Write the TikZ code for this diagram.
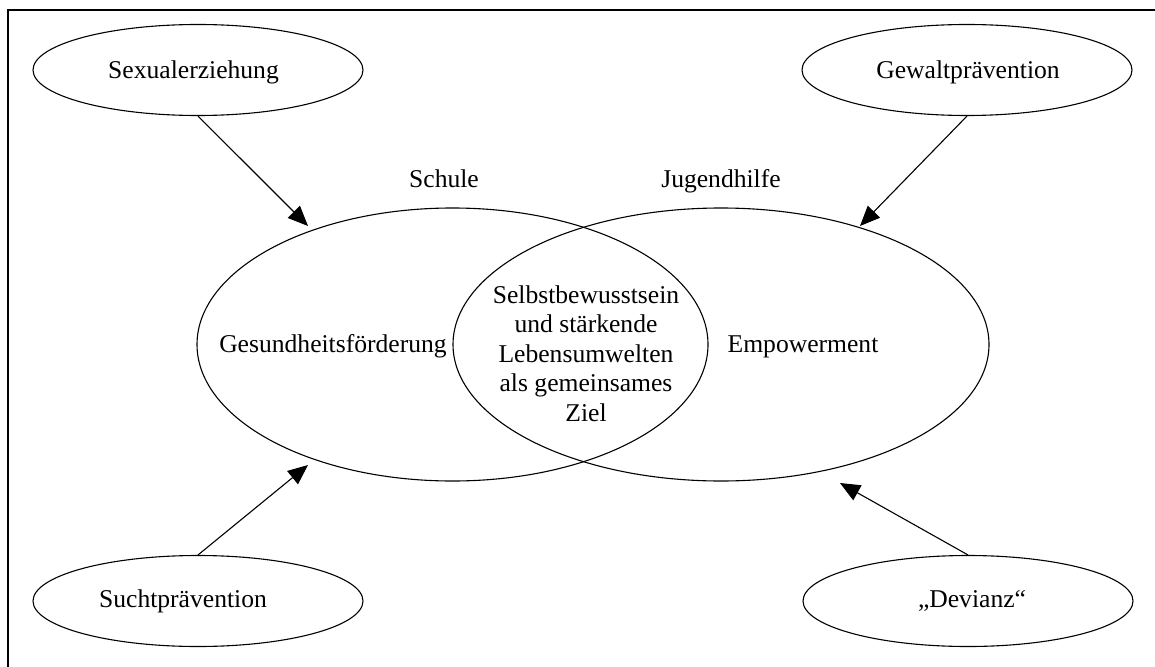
\documentclass[tikz,border=0pt]{standalone}
\usepackage{fontspec}
\setmainfont{Liberation Serif}
\usetikzlibrary{shapes.geometric,arrows.meta}
\begin{document}
\begin{tikzpicture}[x=1pt,y=-1pt,
  ell/.style={draw,ellipse,line width=1.1pt,inner sep=0pt},
  small/.style={ell,minimum width=330pt,minimum height=91pt},
  big/.style={ell,minimum height=273pt},
  lbl/.style={anchor=base,inner sep=0pt,font=\fontsize{25.6}{29.6}\selectfont},
  arr/.style={line width=1.1pt,-{Triangle[length=20pt,width=17pt]}}]
\useasboundingbox (0,0) rectangle (1155,666);
% frame
\draw[line width=1.7pt] (8,680) -- (8,10) -- (1170,10);
% outer ellipses
\node[small] (sex) at (198,70) {};
\node[small] (gew) at (967,70) {};
\node[small] (such) at (198,601) {};
\node[small] (dev) at (968,601) {};
\node[lbl] at (193.5,79) {Sexualerziehung};
\node[lbl] at (968,79) {Gewaltprävention};
\node[lbl] at (183,607) {Suchtprävention};
\node[lbl] at (972,607) {„Devianz“};
% two overlapping ellipses
\node[big,minimum width=511pt] (L) at (452.5,344.5) {};
\node[big,minimum width=536pt] (R) at (721,344.5) {};
\node[lbl] (schule) at (444,187) {Schule};
\node[lbl] (jugend) at (721,187) {Jugendhilfe};
\node[lbl] (gf) at (333,352) {Gesundheitsförderung};
\node[lbl] (emp) at (803,352) {Empowerment};
\node[lbl] (ziel) at (586,303) {\parbox[t]{300pt}{\centering\fontsize{25.6}{29.6}\selectfont
  Selbstbewusstsein\\und stärkende\\Lebensumwelten\\als gemeinsames\\Ziel}};
% arrow tips
\coordinate (t1) at (308,226);
\coordinate (t2) at (860,226);
\coordinate (t3) at (308,465);
\coordinate (t4) at (840,483);
\draw[arr] (sex.south) -- (t1);
\draw[arr] (gew.south) -- (t2);
\draw[arr] (such.north) -- (t3);
\draw[arr] (dev.north) -- (t4);
\end{tikzpicture}
\end{document}
